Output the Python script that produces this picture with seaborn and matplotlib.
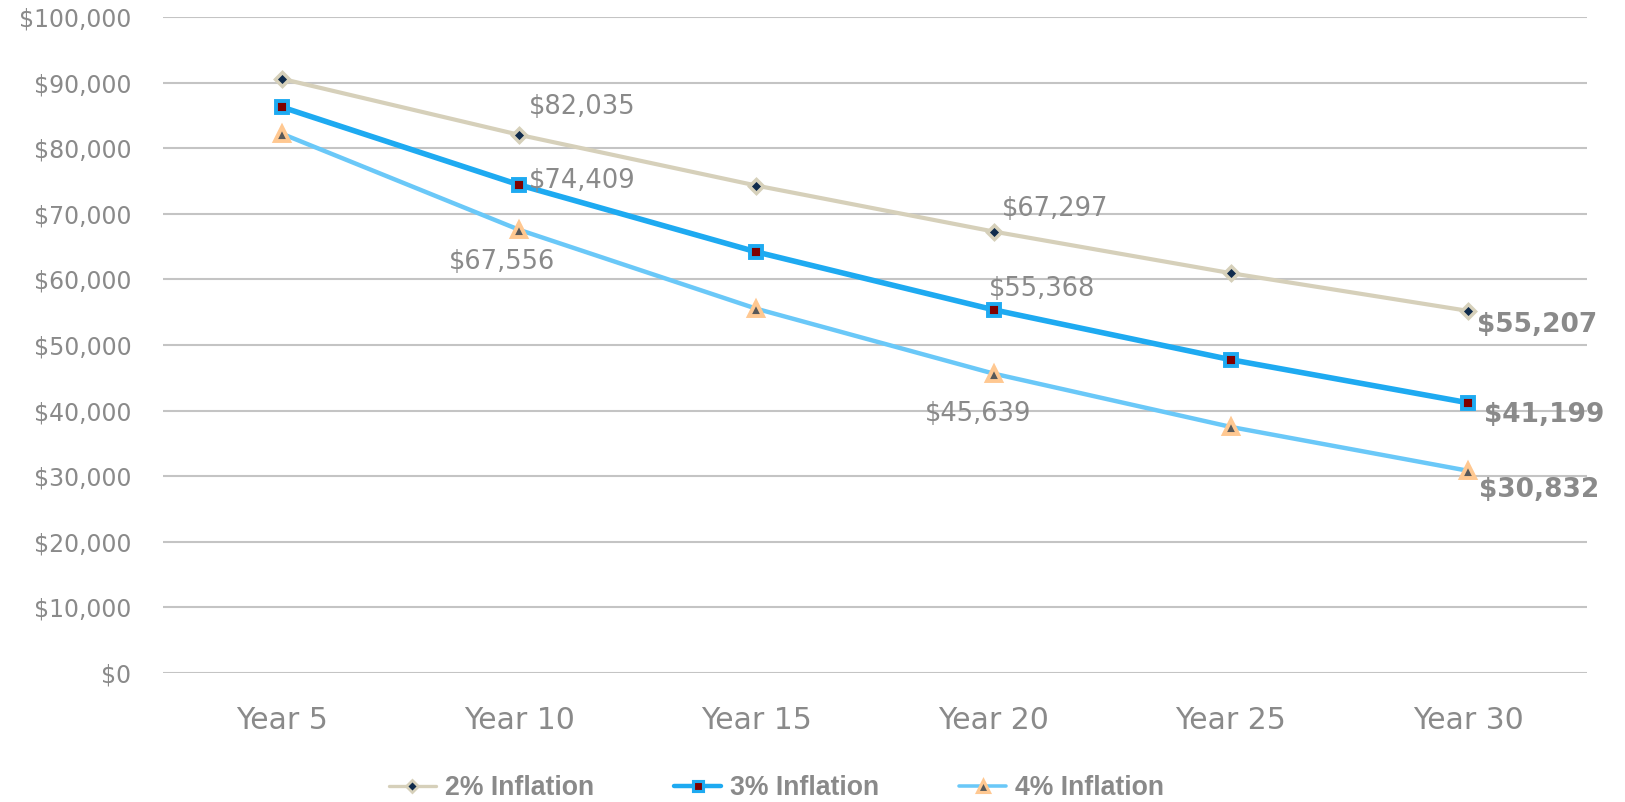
import matplotlib
matplotlib.use("Agg")
import matplotlib.pyplot as plt
import seaborn as sns
import pandas as pd
from matplotlib.lines import Line2D

# Purchasing power of $100,000 over time
years = ["Year 5", "Year 10", "Year 15", "Year 20", "Year 25", "Year 30"]
infl_2 = [90573, 82035, 74301, 67297, 60953, 55207]
infl_3 = [86261, 74409, 64186, 55368, 47761, 41199]
infl_4 = [82193, 67556, 55526, 45639, 37512, 30832]
series_names = ["2% Inflation", "3% Inflation", "4% Inflation"]
yticks = [0, 10000, 20000, 30000, 40000, 50000, 60000, 70000, 80000, 90000, 100000]

sns.set_theme(style="white")
plt.rcParams["font.family"] = ["DejaVu Sans"]

fig = plt.figure(figsize=(16.25, 8.02), dpi=100)
ax = fig.add_axes([0.1006, 0.1608, 0.8758, 0.818])

styles = [
    dict(color="#D6D0BA", lw=3.0, marker="D", ms=7.5, mfc="#0F2B4C", mec="#D6D0BA", mew=2.5),
    dict(color="#1EAAF1", lw=4.0, marker="s", ms=8.5, mfc="#7F0000", mec="#1EAAF1", mew=2.8),
    dict(color="#6AC8F8", lw=3.2, marker="^", ms=10, mfc="#595959", mec="#FFC891", mew=2.8),
]

df = pd.DataFrame({"year": years * 3,
                   "value": infl_2 + infl_3 + infl_4,
                   "series": [s for s in series_names for _ in years]})

for name, st in zip(series_names, styles):
    sub = df[df["series"] == name]
    sns.lineplot(data=sub, x="year", y="value", ax=ax, sort=False,
                 color=st["color"], linewidth=st["lw"], marker=st["marker"],
                 markersize=st["ms"], markerfacecolor=st["mfc"],
                 markeredgecolor=st["mec"], markeredgewidth=st["mew"],
                 zorder=3, legend=False)

ax.set_xlim(-0.5, 5.5)
ax.set_ylim(0, 100000)
ax.set_yticks(yticks)
ax.set_yticklabels([f"${v:,.0f}" for v in yticks])
ax.set_xlabel("")
ax.set_ylabel("")
ax.grid(axis="y", color="#C4C4C4", linewidth=1.5)
ax.grid(axis="x", visible=False)
for sp in ax.spines.values():
    sp.set_visible(False)
ax.tick_params(axis="y", length=0, pad=23, labelsize=17, labelcolor="#8A8A8A")
ax.tick_params(axis="x", length=0, pad=24, labelsize=21.5, labelcolor="#8A8A8A")

# Value labels at years 10, 20 and 30
label_offsets = {
    (0, 1): (10, 28, "left"), (1, 1): (10, 4, "left"), (2, 1): (-17, -32, "center"),
    (0, 3): (8, 23, "left"), (1, 3): (-5, 21, "left"), (2, 3): (-16, -40, "center"),
    (0, 5): (9, -14, "left"), (1, 5): (16, -12, "left"), (2, 5): (11, -19, "left"),
}
all_vals = [infl_2, infl_3, infl_4]
for (si, xi), (dx, dy, ha) in label_offsets.items():
    v = all_vals[si][xi]
    big = xi == 5
    ax.annotate(f"${v:,.0f}", xy=(xi, v), xytext=(dx, dy), textcoords="offset pixels",
                ha=ha, va="center", color="#8A8A8A",
                fontsize=19 if big else 18.5, fontweight="bold" if big else "normal",
                zorder=4)

handles = [Line2D([], [], color=st["color"], lw=st["lw"] * 0.8, marker=st["marker"],
                  ms=st["ms"] * 0.8, mfc=st["mfc"], mec=st["mec"], mew=st["mew"] * 0.8)
           for st in styles]
fig.legend(handles, series_names, loc="center", bbox_to_anchor=(0.478, 0.017),
           ncol=3, frameon=False, handlelength=1.75, handletextpad=0.35,
           columnspacing=3.0, borderpad=0,
           prop={"family": "Liberation Sans", "weight": "bold", "size": 19.2},
           labelcolor="#8A8A8A")

fig.savefig("out.png", dpi=100)
